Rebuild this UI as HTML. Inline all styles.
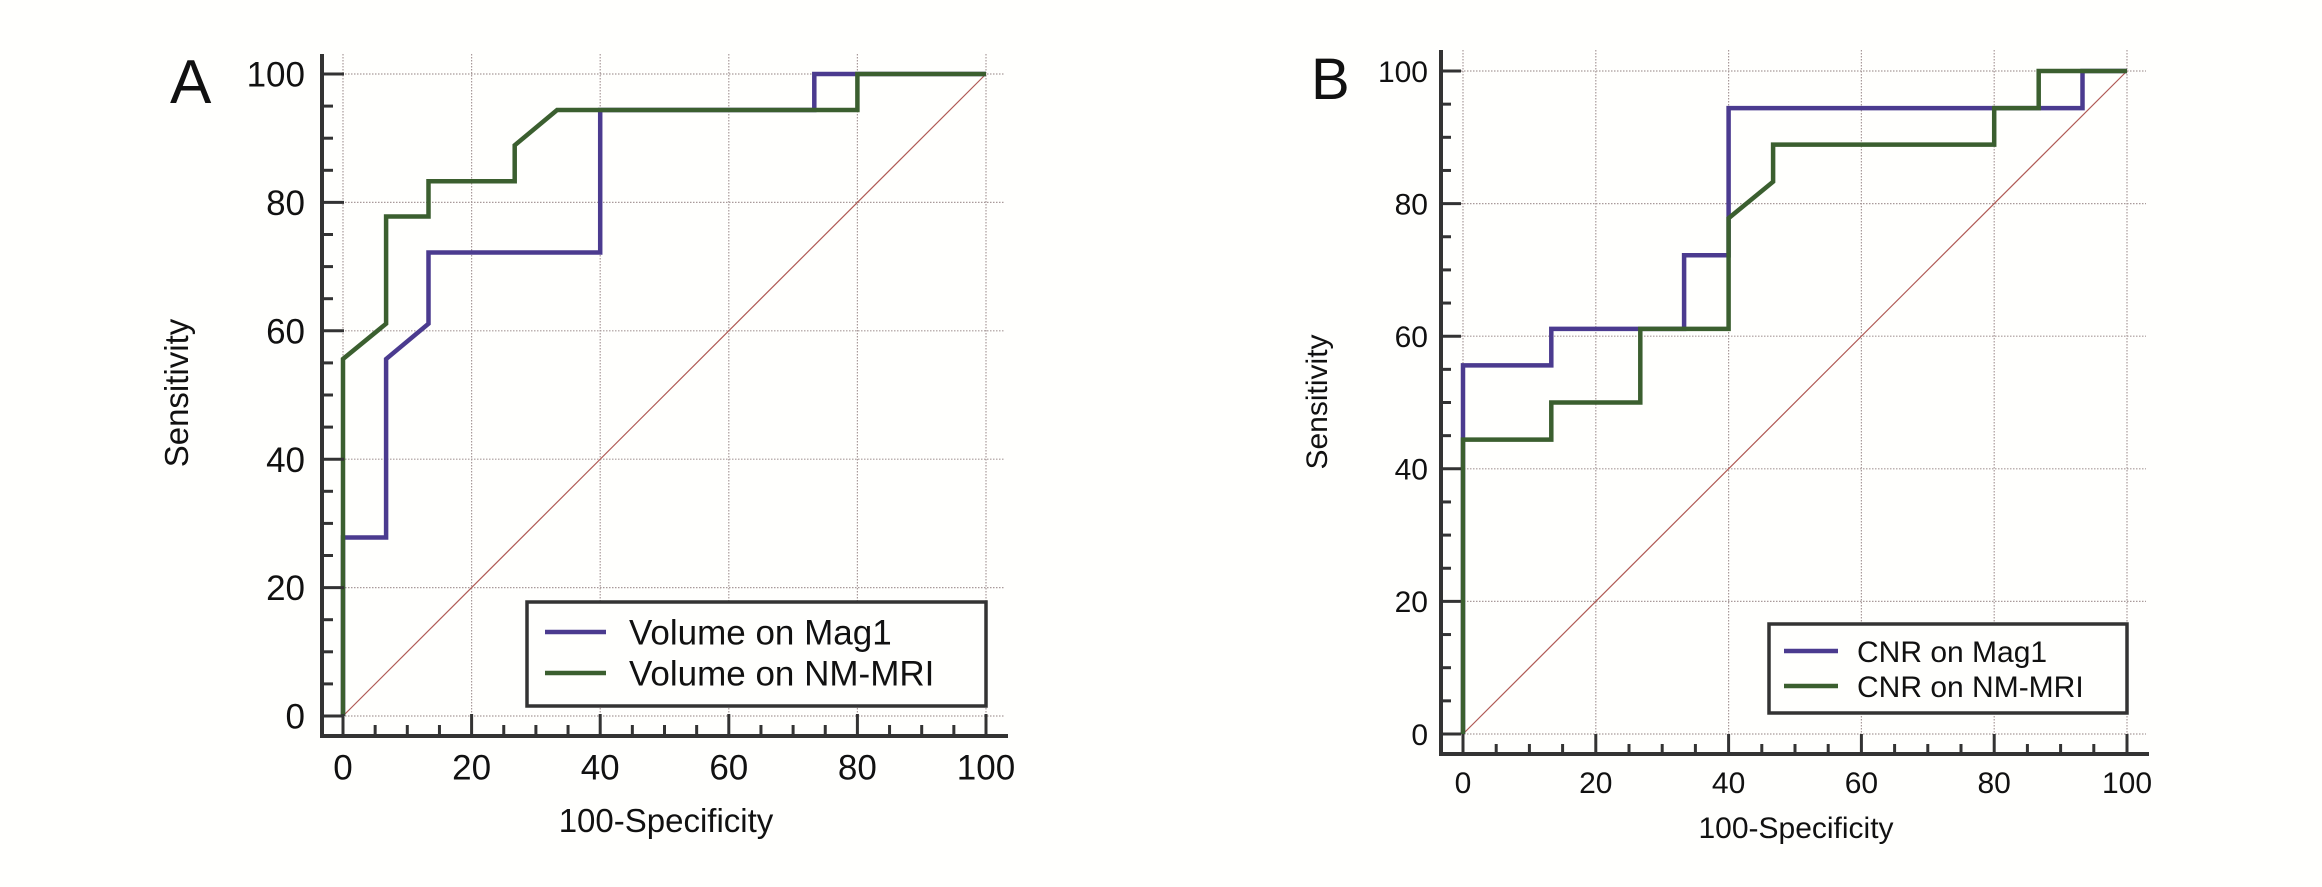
<!DOCTYPE html>
<html><head><meta charset="utf-8"><style>
html,body{margin:0;padding:0;background:#fffffd}
svg{display:block;font-family:"Liberation Sans",Arial,sans-serif}
</style></head><body>
<svg id="chart" width="2322" height="887" viewBox="0 0 2322 887" xmlns="http://www.w3.org/2000/svg">
<rect width="2322" height="887" fill="#fffffd"/>
</svg>
<script>
// Panel A data
const aMag1X = [0,0,6.7,6.7,13.3,13.3,40,40,73.3,73.3,100];
const aMag1Y = [0,27.8,27.8,55.6,61.1,72.2,72.2,94.4,94.4,100,100];
const aNmX = [0,0,6.7,6.7,13.3,13.3,26.7,26.7,33.3,80,80,100];
const aNmY = [0,55.6,61.1,77.8,77.8,83.3,83.3,88.9,94.4,94.4,100,100];
// Panel B data
const bMag1X = [0,0,13.3,13.3,33.3,33.3,40,40,93.3,93.3,100];
const bMag1Y = [0,55.6,55.6,61.1,61.1,72.2,72.2,94.4,94.4,100,100];
const bNmX = [0,0,13.3,13.3,26.7,26.7,40,40,46.7,46.7,80,80,86.7,86.7,100];
const bNmY = [0,44.4,44.4,50,50,61.1,61.1,77.8,83.3,88.9,88.9,94.4,94.4,100,100];
const tickLabels = ["0","20","40","60","80","100"];
const tickValues = [0,20,40,60,80,100];
const legendA = ["Volume on Mag1","Volume on NM-MRI"];
const legendB = ["CNR on Mag1","CNR on NM-MRI"];

const NS="http://www.w3.org/2000/svg";
const svg=document.getElementById('chart');
function mk(tag,attrs,parent,text){
  const e=document.createElementNS(NS,tag);
  for(const k in attrs)e.setAttribute(k,attrs[k]);
  if(text!==undefined)e.textContent=text;
  (parent||svg).appendChild(e);return e;
}
const PURPLE="#4b3b8f", GREEN="#3b5f2f";

function panel(p){
  const g=mk('g',{});
  
  
  const sx=v=>p.x0+(p.x1-p.x0)*v/100;
  const sy=v=>p.y0+(p.y1-p.y0)*v/100;
  tickValues.forEach(v=>{
    const gl=mk('line',{x1:sx(v),x2:sx(v),y1:p.axTop,y2:p.yb-1,stroke:'#a89a9a','stroke-width':1.2,'stroke-dasharray':'1.5 1.5'},g);
    
    
    const gh=mk('line',{x1:p.xl+2,x2:p.gridR,y1:sy(v),y2:sy(v),stroke:'#a89a9a','stroke-width':1.2,'stroke-dasharray':'1.5 1.5'},g);
    
    
  });
  const d=mk('line',{x1:sx(0),y1:sy(0),x2:sx(100),y2:sy(100),stroke:'#b05a55','stroke-width':1.2},g);
  
  
  function series(xs,ys,col,name){
    const pts=xs.map((x,i)=>sx(x).toFixed(1)+','+sy(ys[i]).toFixed(1)).join(' ');
    const pl=mk('polyline',{points:pts,fill:'none',stroke:col,'stroke-width':p.sw,'stroke-linejoin':'miter'},g);
    
    
  }
  series(p.s1x,p.s1y,PURPLE,'roc-curve-mag1');
  series(p.s2x,p.s2y,GREEN,'roc-curve-nm-mri');
  const ya=mk('line',{x1:p.xl,x2:p.xl,y1:p.axTop,y2:p.yb+2,stroke:'#333','stroke-width':4},g);
  
  
  const xa=mk('line',{x1:p.xl-2,x2:p.axRight,y1:p.yb,y2:p.yb,stroke:'#333','stroke-width':4},g);
  
  
  for(let v=0;v<=100;v+=5){
    const major=v%20===0;
    const L=major?p.major:p.minor;
    mk('line',{x1:p.xl,x2:p.xl+L,y1:sy(v),y2:sy(v),stroke:'#333','stroke-width':3},g);
    mk('line',{x1:sx(v),x2:sx(v),y1:p.yb,y2:p.yb-L,stroke:'#333','stroke-width':3},g);
  }
  tickLabels.forEach((t,i)=>{
    const yl=mk('text',{x:p.labR,y:sy(tickValues[i])+p.fs*0.36,'text-anchor':'end','font-size':p.fs,fill:'#111'},g,t);
    
    
    const xl=mk('text',{x:sx(tickValues[i]),y:p.xlabY+p.fs*0.36,'text-anchor':'middle','font-size':p.fs,fill:'#111'},g,t);
    
    
  });
  const xt=mk('text',{x:p.xtX,y:p.xtY+p.tfs*0.36,'text-anchor':'middle','font-size':p.tfs,fill:'#111'},g,'100-Specificity');
  
  
  const yt=mk('text',{x:0,y:0,'text-anchor':'middle','font-size':p.tfs,fill:'#111',transform:`translate(${p.ytX+p.tfs*0.36},${p.ytY}) rotate(-90)`},g,'Sensitivity');
  
  
  const pl=mk('text',{x:p.letX,y:p.letY,'font-size':p.letFs,fill:'#111'},g,p.letter);
  
  
  const lg=mk('g',{},g);
  
  
  mk('rect',{x:p.lg[0],y:p.lg[1],width:p.lg[2]-p.lg[0],height:p.lg[3]-p.lg[1],fill:'#fffffd',stroke:'#333','stroke-width':3.5},lg);
  [PURPLE,GREEN].forEach((c,i)=>{
    const e=mk('g',{},lg);
    
    
    mk('line',{x1:p.smp[0],x2:p.smp[1],y1:p.rows[i],y2:p.rows[i],stroke:c,'stroke-width':p.sw},e);
    mk('text',{x:p.txtX,y:p.rows[i]+p.lfs*0.36,'font-size':p.lfs,fill:'#111'},e,p.legend[i]);
  });
}

panel({id:'a',x0:343,x1:986,y0:716,y1:74,xl:322,yb:736,axTop:54,axRight:1008,gridR:1005,
  major:22,minor:11,sw:4.5,fs:35,labR:305,xlabY:767,tfs:33,xtX:666,xtY:820,ytX:176,ytY:393,
  letter:'A',letX:170,letY:103,letFs:62,lg:[527,602,986,706],smp:[545,606],rows:[632,673],txtX:629,lfs:35,
  s1x:aMag1X,s1y:aMag1Y,s2x:aNmX,s2y:aNmY,legend:legendA});
panel({id:'b',x0:1463,x1:2127,y0:734,y1:71,xl:1441,yb:754,axTop:50,axRight:2149,gridR:2146,
  major:20,minor:10,sw:4.5,fs:30,labR:1428,xlabY:782,tfs:30,xtX:1796,xtY:827,ytX:1316,ytY:402,
  letter:'B',letX:1311,letY:99,letFs:58,lg:[1769,624,2127,713],smp:[1784,1838],rows:[651,686],txtX:1857,lfs:30,
  s1x:bMag1X,s1y:bMag1Y,s2x:bNmX,s2y:bNmY,legend:legendB});
</script>
</body></html>
